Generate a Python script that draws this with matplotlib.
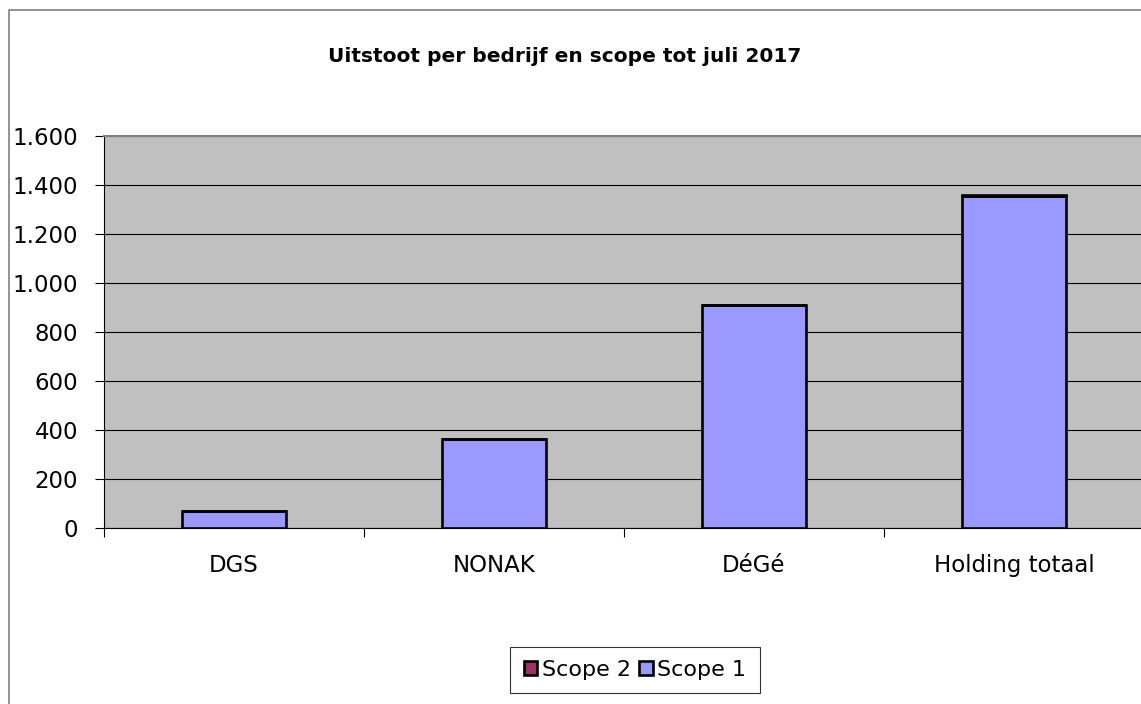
import numpy as np
import matplotlib.pyplot as plt
from matplotlib.lines import Line2D
from matplotlib.ticker import FuncFormatter

companies = ['DGS', 'NONAK', 'DéGé', 'Holding totaal']
scope1 = [70, 362, 910, 1357]
scope2 = [0, 0, 0, 2]
yticks = [0, 200, 400, 600, 800, 1000, 1200, 1400, 1600]

plt.rcParams['font.family'] = ['DejaVu Sans']

fig = plt.figure(figsize=(11.41, 7.04), dpi=100)
W, H = 1141, 704
ax = fig.add_axes([104 / W, 176 / H, 1040 / W, 392 / H])
ax.set_facecolor('#C0C0C0')

x = np.arange(len(companies))
ax.bar(x, scope1, width=0.4, color='#9999FF', edgecolor='black', linewidth=1.9,
       label='Scope 1', zorder=3)
ax.bar(x, scope2, width=0.4, bottom=scope1, color='#993366', edgecolor='black',
       linewidth=1.9, label='Scope 2', zorder=3)

ax.set_xlim(-0.5, len(companies) - 0.5)
ax.set_ylim(0, 1600)
ax.set_yticks(yticks)
ax.yaxis.set_major_formatter(FuncFormatter(lambda v, p: f'{int(v):,}'.replace(',', '.')))
ax.tick_params(axis='y', direction='out', length=6.5, width=0.8, pad=12, labelsize=16.5)
ax.grid(axis='y', color='black', linewidth=0.8)
ax.set_axisbelow(True)

# category boundaries as tick marks, names as minor ticks
ax.set_xticks(np.arange(-0.5, len(companies), 1))
ax.set_xticklabels([])
ax.tick_params(axis='x', which='major', direction='out', length=6.5, width=0.8)
ax.set_xticks(x, minor=True)
ax.set_xticklabels(companies, minor=True)
ax.tick_params(axis='x', which='minor', length=0, pad=19, labelsize=16.5)

ax.spines['top'].set_color('#808080')
ax.spines['top'].set_linewidth(1.5)
ax.spines['right'].set_visible(False)
ax.spines['left'].set_color('black')
ax.spines['bottom'].set_color('black')

fig.text(565 / W, 1 - 56 / H, 'Uitstoot per bedrijf en scope tot juli 2017',
         ha='center', va='center', fontsize=14.5, fontweight='bold')

# outer chart border (cropped on right and bottom)
fig.add_artist(Line2D([9 / W, 9 / W, 1], [0, 1 - 10 / H, 1 - 10 / H],
                      transform=fig.transFigure, color='#808080', linewidth=1.2))

handles, labels = ax.get_legend_handles_labels()
leg = fig.legend(handles[::-1], labels[::-1], loc='center',
                 bbox_to_anchor=(635 / W, 1 - 670 / H), ncol=2, fontsize=16,
                 frameon=True, fancybox=False, edgecolor='black', handlelength=0.6,
                 handleheight=0.6, handletextpad=0.2, columnspacing=0.4,
                 borderpad=0.6, borderaxespad=0)
leg.get_frame().set_linewidth(0.8)

fig.savefig('out.png', dpi=100)
